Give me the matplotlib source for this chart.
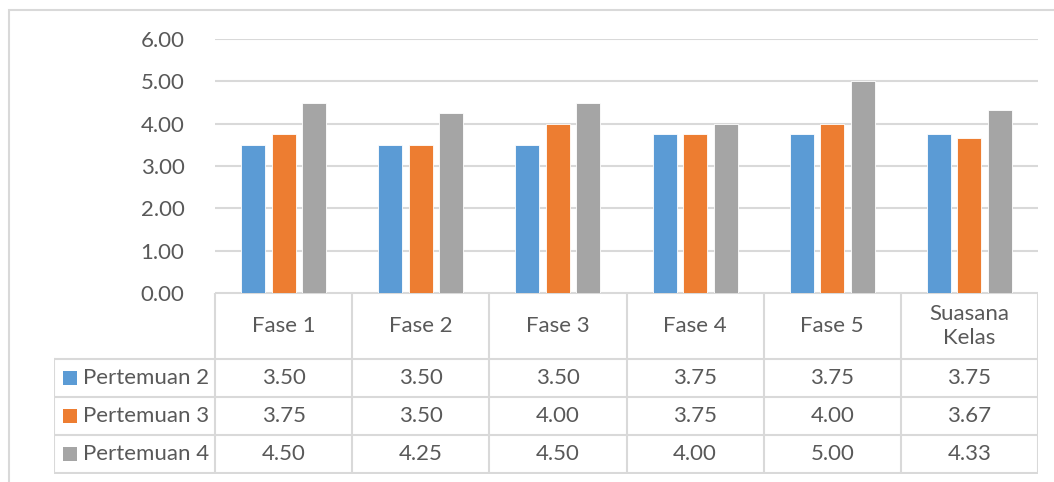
import matplotlib.pyplot as plt
from matplotlib.patches import Rectangle
from matplotlib.lines import Line2D

categories = ["Fase 1", "Fase 2", "Fase 3", "Fase 4", "Fase 5", "Suasana\nKelas"]
series_names = ["Pertemuan 2", "Pertemuan 3", "Pertemuan 4"]
pertemuan_2 = [3.50, 3.50, 3.50, 3.75, 3.75, 3.75]
pertemuan_3 = [3.75, 3.50, 4.00, 3.75, 4.00, 3.67]
pertemuan_4 = [4.50, 4.25, 4.50, 4.00, 5.00, 4.33]
y_ticks = [0, 1, 2, 3, 4, 5, 6]

series = [pertemuan_2, pertemuan_3, pertemuan_4]
colors = ["#5B9BD5", "#ED7D31", "#A5A5A5"]
text_color = "#595959"
line_color = "#D9D9D9"

plt.rcParams["font.family"] = ["Lato", "DejaVu Sans"]

W, H = 1054, 482
fig = plt.figure(figsize=(W / 100, H / 100), dpi=100)


def px(x0, y0, x1, y1):
    # pixel box (top-left origin) -> figure fraction rect
    return [x0 / W, 1 - y1 / H, (x1 - x0) / W, (y1 - y0) / H]


# outer chart border
fig.patches.append(Rectangle((9 / W, -0.1), 1.2, 1 - 10 / H + 0.1,
                             transform=fig.transFigure, fill=False,
                             edgecolor=line_color, linewidth=1.5))

# plot area
ax = fig.add_axes(px(215, 39, 1038, 293))
n = len(categories)
width = 0.175
offsets = [-0.222, 0, 0.222]
for vals, off, c in zip(series, offsets, colors):
    ax.bar([i + off for i in range(n)], vals, width=width, color=c,
           edgecolor="white", linewidth=0.6, zorder=3)
ax.set_xlim(-0.5, n - 0.5)
ax.set_ylim(0, 6)
ax.set_yticks(y_ticks)
ax.set_yticklabels([f"{t:.2f}" for t in y_ticks], fontsize=16, color=text_color)
ax.tick_params(axis="y", length=0, pad=22)
ax.set_xticks([])
ax.grid(axis="y", color=line_color, linewidth=1.5, zorder=0)
for s in ax.spines.values():
    s.set_visible(False)
ax.set_facecolor("none")

# data table below the plot area
tab = fig.add_axes(px(54, 293, 1038, 474))
leg_left = -0.5 - (215 - 54) / (823 / n)
tab.set_xlim(leg_left, n - 0.5)
tab.set_ylim(181, 0)
tab.axis("off")
row_edges = [0, 66, 104, 142, 180]
lw = 1.5
# horizontal lines
tab.add_line(Line2D([-0.5, n - 0.5], [row_edges[0]] * 2, color=line_color, lw=lw))
for y in row_edges[1:]:
    tab.add_line(Line2D([leg_left, n - 0.5], [y, y], color=line_color, lw=lw))
# vertical lines
for i in range(n + 1):
    tab.add_line(Line2D([i - 0.5, i - 0.5], [0, 180], color=line_color, lw=lw))
tab.add_line(Line2D([leg_left, leg_left], [66, 180], color=line_color, lw=lw))

for i, cat in enumerate(categories):
    tab.text(i, 33, cat, ha="center", va="center", fontsize=16,
             color=text_color, linespacing=1.25)

for r, (name, vals, c) in enumerate(zip(series_names, series, colors)):
    yc = (row_edges[r + 1] + row_edges[r + 2]) / 2
    tab.add_patch(Rectangle((leg_left + 0.066, yc - 7), 0.102, 14,
                            facecolor=c, edgecolor="none"))
    tab.text(leg_left + 0.21, yc, name, ha="left", va="center",
             fontsize=16, color=text_color)
    for i, v in enumerate(vals):
        tab.text(i, yc, f"{v:.2f}", ha="center", va="center",
                 fontsize=16, color=text_color)

fig.savefig("out.png", dpi=100)
